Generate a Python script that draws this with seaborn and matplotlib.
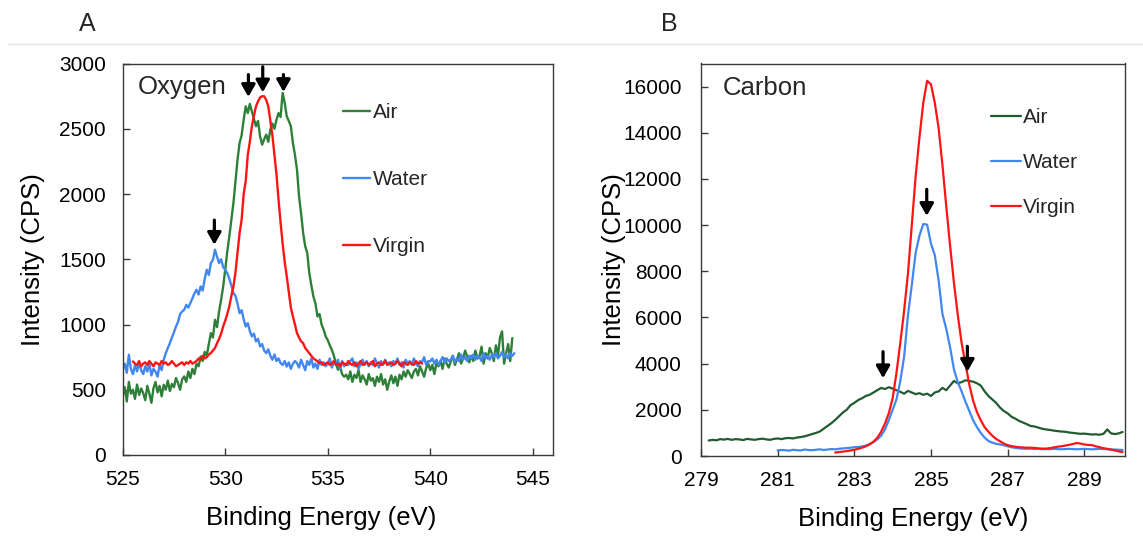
import numpy as np
import pandas as pd
import matplotlib
matplotlib.use("Agg")
import matplotlib.pyplot as plt
from matplotlib.lines import Line2D
import seaborn as sns

# ---------------- data: panel A (Oxygen) ----------------
o_samples = ["Air", "Water", "Virgin"]
o_air_start, o_water_start, o_virgin_start = 525.0, 525.0, 525.5
o_step = 0.1
o_air = [
    448, 520, 410, 560, 470, 500, 430, 540, 460, 510,
    474, 420, 530, 470, 400, 512, 560, 480, 530, 450,
    538, 500, 570, 490, 545, 520, 590, 551, 500, 580,
    602, 560, 640, 590, 660, 620, 700, 680, 755, 720,
    790, 760, 850, 934, 900, 1036, 980, 1100, 1190, 1292,
    1420, 1560, 1675, 1800, 1931, 2100, 2263, 2391, 2450, 2570,
    2672, 2620, 2690, 2634, 2580, 2519, 2560, 2442, 2378, 2420,
    2455, 2400, 2493, 2540, 2500, 2570, 2620, 2590, 2774, 2700,
    2595, 2560, 2519, 2391, 2300, 2187, 1982, 1850, 1701, 1600,
    1548, 1394, 1300, 1215, 1160, 1062, 1080, 1000, 960, 908,
    880, 840, 806, 760, 700, 653, 680, 620, 600, 615,
    580, 640, 560, 615, 590, 650, 560, 610, 580, 540,
    620, 570, 589, 530, 600, 560, 620, 540, 580, 500,
    563, 610, 550, 600, 530, 615, 580, 640, 600, 650,
    620, 590, 640, 660, 610, 680, 640, 600, 666, 700,
    650, 690, 620, 704, 680, 720, 660, 740, 700, 670,
    717, 760, 690, 730, 780, 700, 740, 800, 755, 710,
    760, 720, 800, 740, 755, 830, 700, 780, 740, 820,
    781, 720, 840, 760, 900, 947, 700, 780, 850, 720,
    896,
]
o_water = [
    650, 700, 630, 768, 660, 620, 690, 640, 710, 650,
    620, 680, 640, 700, 610, 660, 640, 600, 690, 650,
    730, 780, 820, 857, 900, 940, 985, 1020, 1080, 1100,
    1113, 1150, 1130, 1164, 1200, 1240, 1266, 1230, 1292, 1260,
    1350, 1420, 1380, 1470, 1496, 1573, 1520, 1471, 1500, 1440,
    1420, 1394, 1350, 1300, 1241, 1220, 1160, 1087, 1110, 1040,
    985, 1010, 950, 909, 930, 870, 890, 832, 850, 800,
    781, 810, 760, 730, 770, 720, 740, 704, 690, 720,
    678, 710, 660, 700, 720, 704, 670, 730, 690, 650,
    720, 691, 740, 670, 700, 660, 730, 690, 710, 680,
    700, 740, 670, 710, 690, 730, 660, 720, 680, 700,
    690, 720, 740, 680, 710, 660, 700, 730, 690, 720,
    680, 710, 690, 740, 700, 670, 720, 690, 730, 700,
    710, 680, 720, 700, 740, 690, 710, 670, 730, 700,
    720, 690, 740, 700, 680, 720, 710, 750, 690, 720,
    717, 740, 700, 730, 690, 720, 750, 710, 740, 720,
    730, 760, 710, 740, 720, 770, 730, 750, 720, 760,
    740, 770, 730, 760, 750, 720, 780, 740, 760, 730,
    770, 750, 780, 740, 760, 790, 750, 770, 740, 780,
    760, 780,
]
o_virgin = [
    717, 700, 690, 720, 680,
    700, 710, 690, 720, 700, 680, 710, 700, 690, 720,
    700, 710, 690, 700, 720, 700, 680, 690, 700, 710,
    690, 710, 700, 720, 700, 710, 720, 740, 730, 760,
    740, 750, 770, 781, 800, 820, 857, 890, 930, 985,
    1030, 1080, 1140, 1220, 1292, 1400, 1548, 1700, 1803, 2000,
    2100, 2300, 2400, 2519, 2600, 2672, 2710, 2740, 2749, 2749,
    2720, 2672, 2560, 2450, 2300, 2150, 1957, 1780, 1620, 1480,
    1369, 1250, 1130, 1062, 1000, 934, 900, 870, 857, 820,
    800, 781, 760, 740, 730, 717, 704, 710, 690, 700,
    710, 690, 700, 720, 690, 700, 680, 710, 700, 690,
    720, 700, 690, 710, 680, 700, 720, 690, 700, 710,
    690, 700, 720, 680, 700, 710, 690, 700, 720, 690,
    700, 710, 690, 700, 720, 700, 680, 710, 700, 690,
    710, 700, 690, 720, 700, 710, 700,
]
o_arrow_e = [531.13, 531.83, 532.84, 529.47]
o_arrow_tip = [2744, 2779, 2782, 1611]
o_arrow_top = [2915, 2975, 2915, 1800]
o_xticks = [525, 530, 535, 540, 545]
o_yticks = [0, 500, 1000, 1500, 2000, 2500, 3000]

# ---------------- data: panel B (Carbon) ----------------
c_air_start, c_water_start, c_virgin_start = 279.2, 281.0, 282.5
c_step = 0.1
c_air = [
    670, 700, 680, 730, 710, 740, 700, 730,
    720, 690, 740, 720, 700, 730, 750, 720, 700, 740,
    760, 730, 770, 780, 760, 800, 820, 850, 900, 950,
    1000, 1060, 1180, 1300, 1420, 1560, 1720, 1880, 2000, 2200,
    2300, 2420, 2500, 2600, 2650, 2750, 2850, 2950, 2900, 2980,
    2920, 2850, 2780, 2700, 2820, 2750, 2680, 2720, 2650, 2700,
    2600, 2750, 2800, 2950, 2850, 3050, 3250, 3150, 3200, 3280,
    3250, 3220, 3150, 3050, 2800, 2600, 2450, 2300, 2100, 1950,
    1850, 1700, 1620, 1520, 1450, 1380, 1300, 1280, 1230, 1180,
    1150, 1130, 1100, 1080, 1060, 1050, 1020, 1000, 980, 960,
    970, 950, 930, 940, 920, 960, 1150, 980, 950, 980,
    1040,
]
c_water = [
    240, 260, 250, 230, 270, 250, 240, 280, 260, 250,
    270, 290, 260, 280, 300, 290, 310, 330, 340, 360,
    380, 390, 410, 450, 520, 600, 720, 880, 1150, 1550,
    2000, 2450, 3250, 4300, 6100, 7400, 8800, 9550, 10050, 10020,
    9200, 8700, 7600, 6150, 5500, 4700, 3750, 3200, 2800, 2350,
    1950, 1550, 1250, 1000, 800, 650, 580, 530, 500, 470,
    420, 380, 350, 330, 320, 310, 320, 300, 310, 290,
    300, 290, 310, 300, 290, 300, 310, 300, 290, 300,
    310, 300, 290, 300, 310, 300, 290, 280, 280, 270,
    260,
]
c_virgin = [
    150, 170, 190, 210, 240,
    270, 310, 360, 420, 500, 620, 790, 1050, 1400, 1850,
    2500, 3600, 4900, 6300, 7900, 10000, 12100, 13800, 15300, 16250,
    16100, 15300, 14200, 12600, 10800, 9100, 7500, 6100, 4900, 4000,
    3100, 2400, 1900, 1550, 1250, 1050, 880, 740, 640, 540,
    470, 430, 400, 380, 370, 360, 360, 350, 330, 320,
    320, 340, 370, 400, 420, 450, 480, 520, 560, 540,
    500, 480, 470, 420, 380, 340, 310, 280, 240, 200,
    170,
]
c_arrow_e = [283.75, 284.89, 285.95]
c_arrow_tip = [3370, 10400, 3650]
c_arrow_top = [4520, 11550, 4750]
c_xticks = [279, 281, 283, 285, 287, 289]
c_yticks = list(range(0, 16001, 2000))


def energies(start, step, n):
    return np.round(start + step * np.arange(n), 2)


def long_frame(series):
    parts = []
    for name, (start, step, vals) in series.items():
        parts.append(pd.DataFrame({"Energy": energies(start, step, len(vals)),
                                   "Intensity": vals, "Sample": name}))
    return pd.concat(parts, ignore_index=True)


df_o = long_frame({"Air": (o_air_start, o_step, o_air),
                   "Water": (o_water_start, o_step, o_water),
                   "Virgin": (o_virgin_start, o_step, o_virgin)})
df_c = long_frame({"Air": (c_air_start, c_step, c_air),
                   "Water": (c_water_start, c_step, c_water),
                   "Virgin": (c_virgin_start, c_step, c_virgin)})

# ---------------- style ----------------
sns.set_theme(style="ticks")
plt.rcParams["font.family"] = ["Liberation Sans", "DejaVu Sans"]
plt.rcParams["axes.edgecolor"] = "#3a3a3a"
plt.rcParams["axes.linewidth"] = 1.0

W, H = 1143, 538
fig = plt.figure(figsize=(W / 100, H / 100), dpi=100)
fig.patch.set_facecolor("white")

axA = fig.add_axes([122.7 / W, (H - 455) / H, (553.3 - 122.7) / W, (455 - 63.5) / H])
axB = fig.add_axes([701 / W, (H - 456) / H, (1124.5 - 701) / W, (456 - 63.5) / H])

pal_o = {"Air": "#2e8039", "Water": "#4287f0", "Virgin": "#ff1414"}
pal_c = {"Air": "#215c30", "Water": "#4287f0", "Virgin": "#ff1414"}

sns.lineplot(data=df_o, x="Energy", y="Intensity", hue="Sample", hue_order=o_samples,
             palette=pal_o, estimator=None, linewidth=1.7, ax=axA)
sns.lineplot(data=df_c, x="Energy", y="Intensity", hue="Sample", hue_order=o_samples,
             palette=pal_c, estimator=None, linewidth=1.6, ax=axB)

for ax in (axA, axB):
    for ln in ax.get_lines():
        ln.set_solid_joinstyle("round")

axA.set_xlim(525, 546)
axA.set_ylim(0, 3000)
axA.set_xticks(o_xticks)
axA.set_yticks(o_yticks)
axB.set_xlim(279, 290.05)
axB.set_ylim(0, 17000)
axB.set_xticks(c_xticks)
axB.set_yticks(c_yticks)

for ax, ypad in ((axA, 12), (axB, 14)):
    for s in ax.spines.values():
        s.set_visible(True)
        s.set_color("#3a3a3a")
        s.set_linewidth(1.0)
    ax.tick_params(axis="both", direction="in", length=5, width=1, color="#3a3a3a",
                   labelsize=15, labelcolor="black")
    ax.tick_params(axis="x", pad=11)
    ax.tick_params(axis="y", pad=ypad)
    ax.set_xlabel("Binding Energy (eV)", fontsize=18.5, color="black")
    ax.set_ylabel("Intensity (CPS)", fontsize=18.5, color="black")
    ax.grid(False)

axA.xaxis.set_label_coords(0.46, -0.13)
axA.yaxis.set_label_coords(-0.18, 0.5)
axB.xaxis.set_label_coords(0.5, -0.13)
axB.yaxis.set_label_coords(-0.177, 0.5)

# legends
hA, lA = axA.get_legend_handles_labels()
axA.legend(hA, lA, loc="upper left", bbox_to_anchor=(0.512, 0.898), frameon=False,
           fontsize=15, handlelength=1.3, handletextpad=0.12, labelspacing=2.3,
           borderpad=0, borderaxespad=0)
hB, lB = axB.get_legend_handles_labels()
axB.legend(hB, lB, loc="upper left", bbox_to_anchor=(0.684, 0.887), frameon=False,
           fontsize=15, handlelength=1.45, handletextpad=0.12, labelspacing=1.25,
           borderpad=0, borderaxespad=0)

# element names
axA.text(0.036, 0.921, "Oxygen", transform=axA.transAxes, fontsize=18.5, va="baseline")
axB.text(0.051, 0.921, "Carbon", transform=axB.transAxes, fontsize=18.5, va="baseline")

# arrows marking peaks
astyle = dict(arrowstyle="-|>,head_length=0.6,head_width=0.34", color="black", lw=2.3,
              mutation_scale=12, shrinkA=0, shrinkB=0)
for e, tip, top in zip(o_arrow_e, o_arrow_tip, o_arrow_top):
    axA.annotate("", xy=(e, tip), xytext=(e, top), arrowprops=astyle)
for e, tip, top in zip(c_arrow_e, c_arrow_tip, c_arrow_top):
    axB.annotate("", xy=(e, tip), xytext=(e, top), arrowprops=astyle)

# panel letters and separator line
fig.text(87.5 / W, 1 - 24 / H, "A", fontsize=18, ha="center", va="center")
fig.text(669 / W, 1 - 24 / H, "B", fontsize=18, ha="center", va="center")
fig.add_artist(Line2D([8 / W, 1.0], [1 - 44 / H, 1 - 44 / H], color="#e6e6e6", lw=1.0))

fig.savefig("out.png", dpi=100, facecolor="white")
